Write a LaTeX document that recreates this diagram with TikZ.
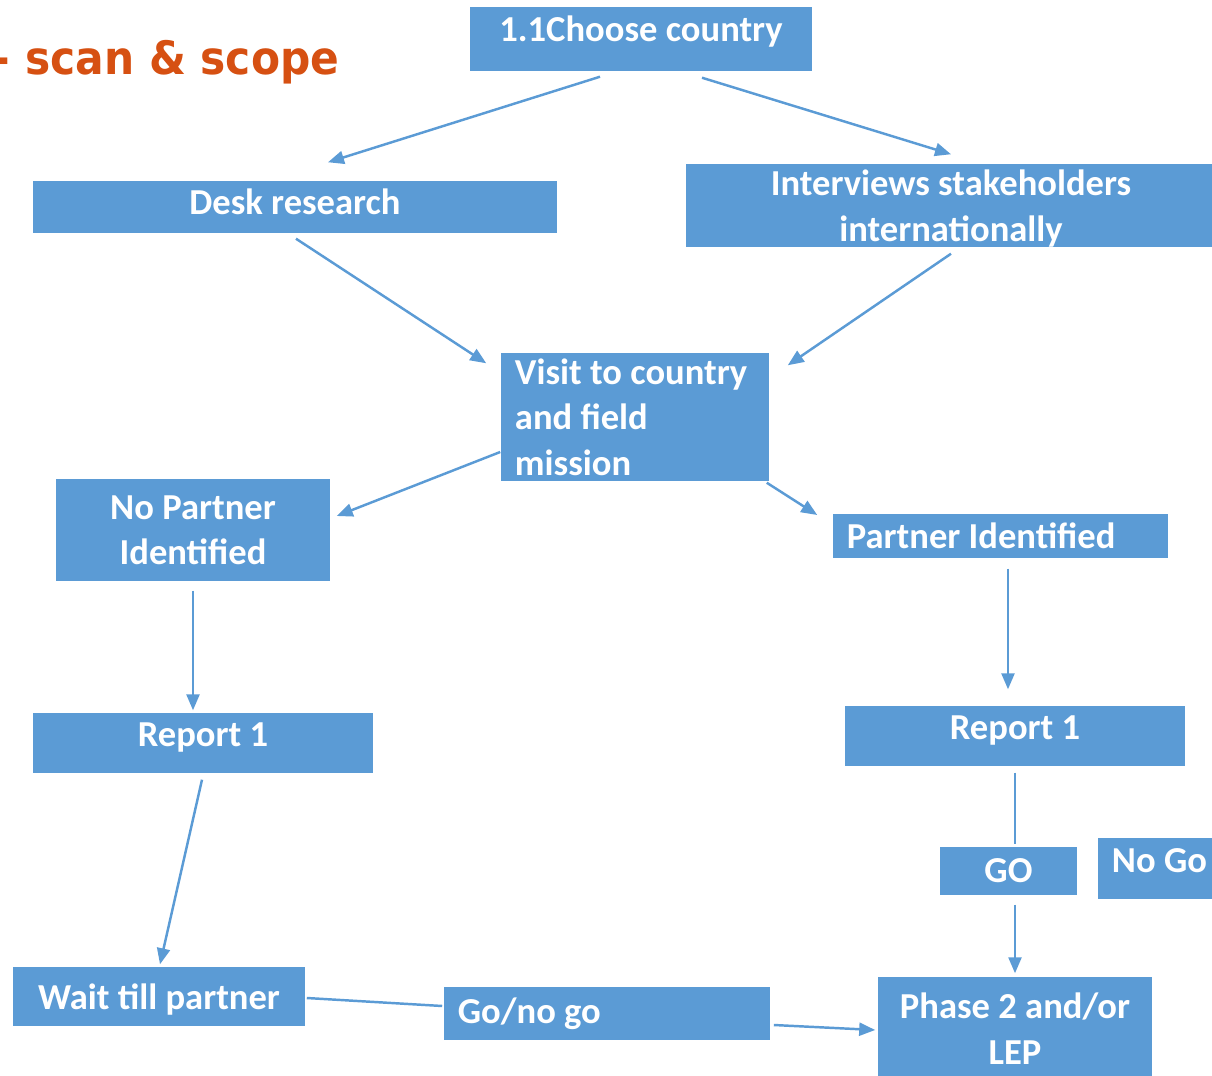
\documentclass[tikz,border=0pt]{standalone}
\usepackage{graphicx,xcolor}
\usepackage{fontspec}
\setmainfont{Carlito}
\newfontfamily\titlefont{DejaVu Sans}
\usepackage{tikz}
\usetikzlibrary{arrows.meta,calc}
\definecolor{boxblue}{RGB}{91,155,213}
\definecolor{titleorange}{RGB}{214,80,18}

\begin{document}
\begin{tikzpicture}[x=0.01cm,y=-0.01cm,
  box/.style={fill=boxblue,text=white,inner sep=0pt,align=center,
    font=\fontsize{10.4}{12.9}\selectfont\bfseries},
  lbox/.style={box,align=flush left,inner xsep=0.14cm},
  arr/.style={-{Triangle[length=0.16cm,width=0.13cm]},draw=boxblue,line width=0.7pt},
  ln/.style={draw=boxblue,line width=0.7pt}]
\clip (0,0) rectangle (1212,1076);
\node[anchor=base east,inner sep=0pt,text=titleorange,font=\titlefont\fontsize{13.1}{15}\selectfont\bfseries] (title) at (340,75) {\scalebox{0.92}[1]{- scan \& scope}};
\node[box,minimum width=3.42cm,minimum height=0.64cm,text depth=0.20cm] (choose) at (641,39) {1.1Choose country};
\node[box,minimum width=5.24cm,minimum height=0.52cm,text depth=0.10cm] (desk) at (295,207) {Desk research};
\node[box,minimum width=5.30cm,minimum height=0.83cm,text depth=0cm] (interviews) at (951,205.5) {Interviews stakeholders\\internationally};
\node[lbox,text width=2.40cm,minimum height=1.28cm] (visit) at (635,417) {Visit to country\\and field\\mission};
\node[box,minimum width=2.74cm,minimum height=1.02cm] (nopartner) at (193,530) {No Partner\\Identified};
\node[lbox,text width=3.07cm,minimum height=0.44cm] (partner) at (1000.5,536) {Partner Identified};
\node[box,minimum width=3.40cm,minimum height=0.60cm,text depth=0.16cm] (reportL) at (203,743) {Report 1};
\node[box,minimum width=3.40cm,minimum height=0.60cm,text depth=0.16cm] (reportR) at (1015,736) {Report 1};
\node[box,minimum width=1.37cm,minimum height=0.48cm] (go) at (1008.5,871) {GO};
\node[lbox,text width=1.12cm,minimum height=0.61cm,text depth=0.15cm] (nogo) at (1168,868.5) {No Go};
\node[box,minimum width=2.92cm,minimum height=0.59cm,text depth=0cm] (wait) at (159,996.5) {Wait till partner};
\node[lbox,text width=2.98cm,minimum height=0.53cm] (gonogo) at (607,1013.5) {Go/no go};
\node[box,minimum width=2.74cm,minimum height=1.03cm] (phase) at (1015,1028.5) {Phase 2 and/or\\LEP};
\draw[arr] ($(choose.south)+(-41,5)$) -- ($(desk.north)+(33,-18)$);
\draw[arr] ($(choose.south)+(61,6)$) -- ($(interviews.north)+(0,-9)$);
\draw[arr] ($(desk.south)+(1,5)$) -- ($(visit.north west)+(-14,11)$);
\draw[arr] ($(interviews.south)+(0,6)$) -- ($(visit.north east)+(18,13)$);
\draw[arr] ($(visit.west)+(0,35)$) -- ($(nopartner.east)+(6,-14)$);
\draw[arr] ($(visit.south east)+(-3,1)$) -- ($(partner.west)+(-15,-21)$);
\draw[arr] ($(nopartner.south)+(0,9)$) -- ($(reportL.north)+(-10,-2)$);
\draw[arr] ($(partner.south)+(7.5,10)$) -- ($(reportR.north)+(-7,-16)$);
\draw[arr] ($(reportL.south)+(-1,6)$) -- ($(wait.north)+(1,-2)$);
\draw[ln] ($(reportR.south)+(0,6)$) -- ($(go.north)+(6.5,-2)$);
\draw[arr] ($(go.south)+(6.5,9)$) -- ($(phase.north)+(0,-3)$);
\draw[ln] ($(wait.east)+(1,1.5)$) -- ($(gonogo.west)+(-1,-7.5)$);
\draw[arr] ($(gonogo.east)+(3,11.5)$) -- ($(phase.west)+(-2,1.5)$);
\end{tikzpicture}
\end{document}
